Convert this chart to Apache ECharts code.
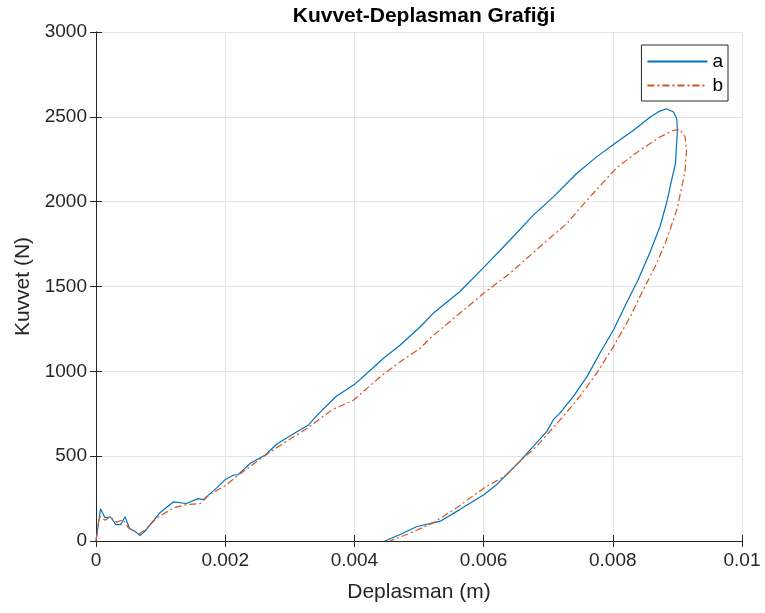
<!DOCTYPE html>
<html>
<head>
<meta charset="utf-8">
<script src="https://cdn.jsdelivr.net/npm/echarts@6/dist/echarts.min.js"></script>
<style>html,body{margin:0;padding:0;background:#fff}#c{width:765px;height:613px}</style>
</head>
<body>
<div id="c"></div>
<script>
const titleText = 'Kuvvet-Deplasman Grafiği';
const xLabel = 'Deplasman (m)';
const yLabel = 'Kuvvet (N)';
const seriesNames = ['a', 'b'];
const xTicks = [0, 0.002, 0.004, 0.006, 0.008, 0.01];
const yTicks = [0, 500, 1000, 1500, 2000, 2500, 3000];

// series a: [displacement (m), force (N)] in acquisition order (loading then unloading)
const seriesA = [
  [0,0],[0.00007,190],[0.00014,137],[0.00022,143],[0.00031,97],[0.00038,97],[0.00045,143],
  [0.00052,72],[0.0006,58],[0.00068,32],[0.00076,58],[0.00086,107],[0.00099,166],[0.0012,231],
  [0.0014,221],[0.00158,250],[0.00166,244],[0.00187,313],[0.002,362],[0.00213,389],[0.0022,391],
  [0.00239,458],[0.00262,507],[0.0028,572],[0.00311,644],[0.00329,684],[0.00345,752],[0.00371,850],
  [0.00402,929],[0.00425,1008],[0.00445,1077],[0.00471,1155],[0.00502,1263],[0.00522,1342],
  [0.00563,1469],[0.00601,1616],[0.00641,1774],[0.00677,1921],[0.00708,2028],[0.00744,2166],
  [0.00775,2264],[0.00802,2340],[0.00832,2421],[0.00858,2499],[0.00873,2534],[0.00883,2548],
  [0.00894,2528],[0.00899,2489],[0.009,2421],[0.00897,2225],[0.00891,2126],[0.00883,1989],
  [0.00873,1852],[0.00858,1705],[0.00839,1538],[0.00821,1401],[0.00801,1244],[0.0078,1107],
  [0.0076,969],[0.00739,852],[0.00718,754],[0.00708,715],[0.00698,646],[0.00677,558],
  [0.00656,469],[0.00638,401],[0.0062,332],[0.00601,274],[0.00563,185],[0.00533,117],
  [0.00496,84],[0.00471,38],[0.00447,0]
];

// series b
const seriesB = [
  [0,0],[0.00005,146],[0.00014,123],[0.00022,143],[0.00032,111],[0.00042,126],[0.0005,78],
  [0.0006,58],[0.00067,44],[0.00076,64],[0.00094,136],[0.0012,195],[0.0014,215],[0.00161,221],
  [0.00176,274],[0.002,326],[0.00221,390],[0.00259,497],[0.0029,576],[0.00327,664],[0.00365,772],
  [0.00399,831],[0.0044,968],[0.00471,1057],[0.00502,1136],[0.00517,1195],[0.006,1460],
  [0.00641,1578],[0.00687,1734],[0.00729,1872],[0.0076,2009],[0.00806,2200],[0.00842,2303],
  [0.00873,2381],[0.00894,2421],[0.00904,2425],[0.00912,2381],[0.00914,2303],[0.00912,2185],
  [0.00909,2126],[0.00899,1950],[0.00883,1774],[0.00868,1636],[0.00847,1479],[0.00827,1322],
  [0.00801,1146],[0.00775,989],[0.00749,852],[0.00723,734],[0.00682,558],[0.00656,469],
  [0.00636,391],[0.00601,313],[0.00558,195],[0.00522,107],[0.00481,38],[0.00455,0]
];

const FONT = '"Liberation Sans", Arial, Helvetica, sans-serif';
const AX = '#262626';
const xLabelSet = new Set(xTicks.map(v => +v.toFixed(4)));
const yLabelSet = new Set(yTicks);

const chart = echarts.init(document.getElementById('c'), null, {renderer: 'canvas'});
chart.setOption({
  animation: false,
  backgroundColor: '#ffffff',
  title: {
    text: titleText, left: 419, top: 1, textAlign: 'center',
    textStyle: {fontFamily: FONT, fontSize: 21, fontWeight: 'bold', color: '#000'}
  },
  grid: {left: 96, right: 23, top: 32, bottom: 72, show: false},
  legend: {
    data: seriesNames, orient: 'vertical', right: 37, top: 45,
    itemWidth: 60, itemHeight: 14, itemGap: 5,
    padding: [7, 5, 6, 5],
    borderColor: AX, borderWidth: 1, backgroundColor: '#fff',
    itemStyle: {opacity: 0},
    textStyle: {fontFamily: FONT, fontSize: 19, color: '#000', lineHeight: 19}
  },
  xAxis: [{
    type: 'value', min: 0, max: 0.01, interval: 0.002,
    name: xLabel, nameLocation: 'middle', nameGap: 41,
    nameTextStyle: {fontFamily: FONT, fontSize: 21, color: AX},
    axisLine: {show: true, lineStyle: {color: AX, width: 1}},
    axisTick: {show: true, inside: true, length: 6, lineStyle: {color: AX}},
    axisLabel: {fontFamily: FONT, fontSize: 19, color: AX, margin: 10,
      formatter: v => xLabelSet.has(+v.toFixed(4)) ? String(+v.toFixed(4)) : ''},
    splitLine: {show: true, lineStyle: {color: '#e3e3e3', width: 1}}
  }, {
    type: 'value', position: 'top', min: 0, max: 0.01, interval: 0.002,
    axisLine: {show: true, lineStyle: {color: AX, width: 1}},
    axisTick: {show: true, inside: true, length: 6, lineStyle: {color: AX}},
    axisLabel: {show: false}, splitLine: {show: false}
  }],
  yAxis: [{
    type: 'value', min: 0, max: 3000, interval: 500,
    name: yLabel, nameLocation: 'middle', nameGap: 60,
    nameTextStyle: {fontFamily: FONT, fontSize: 21, color: AX},
    axisLine: {show: true, lineStyle: {color: AX, width: 1}},
    axisTick: {show: true, inside: true, length: 6, lineStyle: {color: AX}},
    axisLabel: {fontFamily: FONT, fontSize: 19, color: AX, margin: 9,
      formatter: v => yLabelSet.has(v) ? String(v) : ''},
    splitLine: {show: true, lineStyle: {color: '#e3e3e3', width: 1}}
  }, {
    type: 'value', position: 'right', min: 0, max: 3000, interval: 500,
    axisLine: {show: true, lineStyle: {color: AX, width: 1}},
    axisTick: {show: true, inside: true, length: 6, lineStyle: {color: AX}},
    axisLabel: {show: false}, splitLine: {show: false}
  }],
  series: [{
    name: seriesNames[0], type: 'line', data: seriesA, symbol: 'none', smooth: false,
    xAxisIndex: 0, yAxisIndex: 0,
    lineStyle: {color: '#0072BD', width: 1.2},
    itemStyle: {color: '#0072BD'}
  }, {
    name: seriesNames[1], type: 'line', data: seriesB, symbol: 'none', smooth: false,
    xAxisIndex: 0, yAxisIndex: 0,
    lineStyle: {color: '#D95319', width: 1.2, type: [7, 3, 2, 3]},
    itemStyle: {color: '#D95319'}
  }]
});
</script>
</body>
</html>
